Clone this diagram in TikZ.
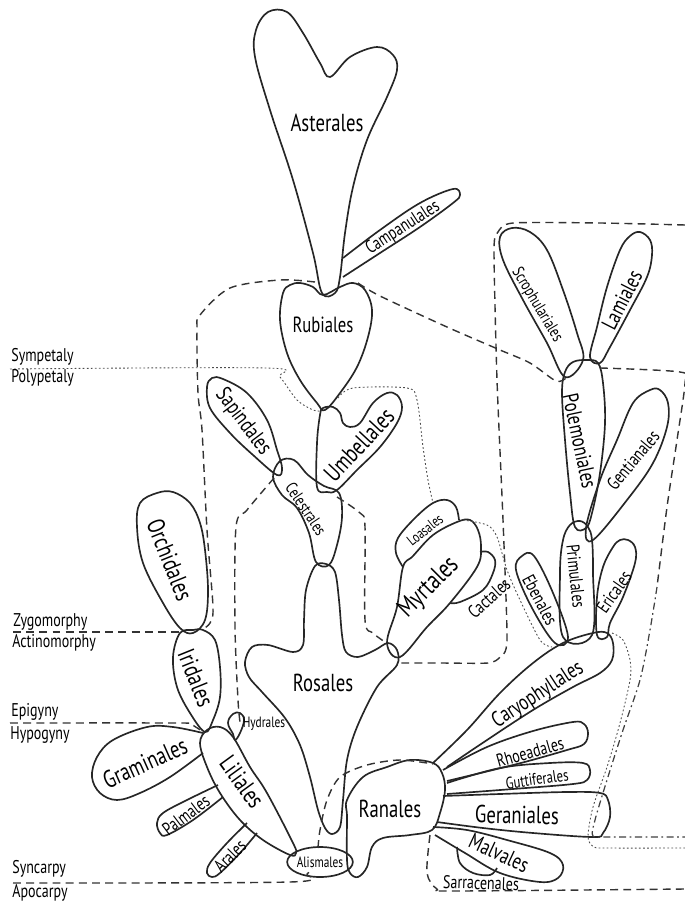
\documentclass[tikz,border=0pt]{standalone}
\usepackage{fontspec}
\newfontfamily\handfont[FakeStretch=0.76]{PT Sans}
\usetikzlibrary{shapes.geometric}

\begin{document}
\begin{tikzpicture}[
        x=0.02cm, y=-0.02cm,
        blob/.style={
            draw=black!85,
            line width=0.95pt,
            line join=round
        },
        grpline/.style={
            draw=black!80,
            line width=0.8pt,
            dash pattern=on 4.5pt off 3pt
        },
        fineline/.style={
            draw=black!70,
            line width=0.5pt,
            dash pattern=on 1pt off 1.3pt
        },
        dashdotline/.style={
            draw=black!75,
            line width=0.7pt,
            dash pattern=on 4pt off 2pt on 1pt off 2pt
        },
        ordA/.style={font=\handfont\fontsize{14}{14}\selectfont, inner sep=0pt},
        ordB/.style={font=\handfont\fontsize{12.5}{12.5}\selectfont, inner sep=0pt},
        ordC/.style={font=\handfont\fontsize{10.5}{10.5}\selectfont, inner sep=0pt},
        ordS/.style={font=\handfont\fontsize{9.5}{9.5}\selectfont, inner sep=0pt},
        ordD/.style={font=\handfont\fontsize{8.5}{8.5}\selectfont, inner sep=0pt},
        trait/.style={font=\handfont\fontsize{10.5}{10.5}\selectfont, inner sep=0pt, anchor=west}
    ]

    \useasboundingbox (0,0) rectangle (685,901);

    % Sympetalous orders
    \draw[blob] plot[smooth cycle, tension=0.6] coordinates {
        (322,293) (313,253) (293,180) (270,110) (255,57) (256,30) (268,12)
        (287,12) (303,33) (320,63) (330,77) (350,57) (377,47) (393,55)
        (397,70) (387,97) (367,140) (353,187) (345,233) (340,277) (335,293)};
    \draw[blob] plot[smooth, tension=0.6] coordinates {
        (343,258) (380,230) (420,203) (453,189) (460,195) (453,203)
        (420,227) (380,253) (343,277)};
    \draw[blob] plot[smooth cycle, tension=0.6] coordinates {
        (323,295) (340,287) (353,283) (365,290) (372,310) (368,337)
        (357,367) (340,393) (325,410) (317,403) (300,380) (287,353)
        (280,320) (283,293) (290,285) (300,283) (313,287)};
    \draw[blob] plot[smooth cycle, tension=0.6] coordinates {
        (500,237) (512,228) (530,232) (547,250) (563,290) (577,333)
        (583,360) (565,377) (547,343) (523,300) (503,260)};
    \draw[blob] plot[smooth cycle, tension=0.6] coordinates {
        (590,357) (597,327) (607,287) (620,250) (630,236) (640,232)
        (650,240) (652,255) (647,277) (630,310) (610,347) (600,363)};
    \draw[blob] plot[smooth cycle, tension=0.6] coordinates {
        (573,362) (587,360) (598,363) (603,383) (605,423) (600,473)
        (592,513) (586,528) (575,527) (570,493) (565,440) (562,393) (565,372)};
    \draw[blob] plot[smooth cycle, tension=0.6] coordinates {
        (586,528) (600,480) (617,440) (633,403) (650,390) (660,390)
        (668,403) (667,427) (653,463) (627,500) (593,540)};
    \draw[blob] plot[smooth cycle, tension=0.6] coordinates {
        (570,525) (580,521) (588,527) (592,540) (593,573) (592,635)
        (563,637) (560,573) (563,540)};
    \draw[blob] plot[smooth cycle, tension=0.6] coordinates {
        (620,540) (628,540) (635,547) (635,563) (623,597) (610,623)
        (607,637) (597,635) (597,597) (603,567) (613,547)};
    \draw[blob] plot[smooth cycle, tension=0.6] coordinates {
        (522,556) (534,556) (553,593) (568,637) (555,643) (532,608)
        (516,570)};

    % Polypetalous orders
    \draw[blob] plot[smooth cycle, tension=0.6] coordinates {
        (323,408) (333,407) (340,413) (343,423) (350,427) (360,423)
        (373,403) (387,393) (397,395) (402,407) (397,423) (380,447)
        (357,470) (337,490) (327,492) (317,487) (317,443) (320,415)};
    \draw[blob] plot[smooth cycle, tension=0.6] coordinates {
        (207,387) (212,378) (223,379) (247,393) (267,420) (277,450)
        (282,468) (277,475) (253,455) (230,433) (210,408)};
    \draw[blob] plot[smooth cycle, tension=0.6] coordinates {
        (280,461) (294,460) (308,475) (324,486) (339,493) (342,517)
        (337,545) (329,565) (316,562) (309,533) (297,508) (282,495) (273,477)};
    \draw[blob] plot[smooth cycle, tension=0.55] coordinates {
        (315,566) (326,564) (335,572) (339,600) (342,635) (346,652)
        (358,657) (375,650) (388,643) (397,650) (397,665) (377,687)
        (357,727) (347,760) (343,800) (340,827) (332,834) (325,828)
        (318,810) (310,777) (300,745) (285,718) (262,692) (249,677)
        (245,662) (252,647) (268,645) (293,652) (303,645) (304,620) (306,590)};
    \draw[blob] plot[smooth cycle, tension=0.6] coordinates {
        (387,643) (397,607) (403,567) (413,556) (433,535) (457,522)
        (470,520) (478,530) (481,547) (477,567) (450,603) (427,627) (400,657)};
    \draw[blob] plot[smooth, tension=0.6] coordinates {
        (403,567) (396,553) (398,538) (415,518) (433,503) (447,500)
        (456,507) (459,520)};
    \draw[blob] plot[smooth, tension=0.6] coordinates {
        (480,552) (488,552) (495,560) (493,573) (483,590) (460,602) (450,603)};
    \draw[blob] plot[smooth cycle, tension=0.6] coordinates {
        (347,800) (363,777) (387,767) (410,760) (433,763) (442,773)
        (445,790) (440,813) (432,830) (410,835) (383,838) (372,847)
        (367,867) (358,877) (350,873) (347,860) (347,817)};
    \draw[blob] plot[smooth, tension=0.6] coordinates {
        (433,763) (467,730) (500,693) (533,663) (563,643) (593,633)
        (607,633) (613,643) (612,660) (600,673) (573,687) (533,710)
        (487,740) (447,767)};
    \draw[blob] plot[smooth, tension=0.6] coordinates {
        (443,770) (487,747) (533,731) (573,722) (584,724) (588,733)
        (584,744) (567,750) (517,764) (447,781)};
    \draw[blob] plot[smooth, tension=0.6] coordinates {
        (447,783) (500,768) (550,763) (583,763) (590,770) (587,780)
        (573,784) (513,789) (447,794)};
    \draw[blob] plot[smooth, tension=0.6] coordinates {
        (443,796) (500,794) (567,792) (600,793) (608,800) (610,817)
        (603,833) (593,837) (533,833) (483,828) (437,822)};
    \draw[blob] plot[smooth, tension=0.6] coordinates {
        (433,827) (467,830) (507,840) (550,853) (563,865) (558,878)
        (540,882) (500,873) (465,853) (435,835)};
    \draw[blob] plot[smooth, tension=0.6] coordinates {
        (457,847) (460,863) (473,873) (490,875) (497,868)};

    % Monocotyledonous orders
    \draw[blob] plot[smooth cycle, tension=0.6] coordinates {
        (157,493) (173,492) (190,503) (200,523) (205,550) (208,590)
        (205,620) (193,633) (180,628) (163,603) (143,563) (137,527) (140,503)};
    \draw[blob] plot[smooth cycle, tension=0.6] coordinates {
        (180,633) (193,630) (203,630) (215,640) (220,667) (220,697)
        (213,720) (205,732) (190,713) (177,687) (173,657)};
    \draw[blob] plot[smooth cycle, tension=0.6] coordinates {
        (207,730) (220,727) (233,737) (250,767) (267,793) (293,843)
        (296,853) (290,855) (263,840) (240,820) (220,793) (207,767) (200,743)};
    \draw[blob] plot[smooth, tension=0.6] coordinates {
        (203,733) (173,727) (147,727) (113,740) (97,757) (92,777)
        (100,793) (117,800) (140,793) (170,777) (203,753)};
    \draw[blob] plot[smooth, tension=0.6] coordinates {
        (218,785) (187,800) (163,813) (157,823) (160,833) (167,835)
        (193,820) (223,797)};
    \draw[blob] plot[smooth, tension=0.6] coordinates {
        (247,823) (227,843) (210,863) (207,873) (212,877) (220,873)
        (240,853) (257,833)};
    \draw[blob] plot[smooth cycle, tension=0.7] coordinates {
        (233,734) (228,723) (233,714) (240,713) (244,720) (240,733) (235,740)};
    \node[blob, ellipse, minimum width=1.08cm, minimum height=0.6cm,
        inner sep=0pt, ordD] (alismales) at (320,862) {Alismales};

    % Group boundaries
    \draw[grpline] plot[smooth, tension=0.5] coordinates {
        (315,282) (280,280) (230,288) (200,315) (197,330) (198,393)
        (202,430) (207,530) (213,607) (210,623) (203,629)};
    \draw[grpline] plot[smooth, tension=0.5] coordinates {
        (358,283) (380,296) (447,327) (500,350) (530,363) (556,381) (566,378)};
    \draw[grpline] plot[smooth, tension=0.4] coordinates {
        (685,225) (600,223) (513,223) (498,232) (494,250) (497,380)
        (503,520) (507,640) (500,657) (488,663) (440,663) (400,663)};
    \draw[grpline] plot[smooth, tension=0.5] coordinates {
        (337,497) (360,513) (365,527) (365,620) (373,633) (385,642)};
    \draw[grpline] plot[smooth, tension=0.5] coordinates {
        (274,478) (247,510) (236,527) (235,627) (238,700) (240,722)};
    \draw[grpline] plot[smooth, tension=0.5] coordinates {
        (318,848) (320,830) (327,800) (340,777) (367,765) (400,760) (433,764)};
    \draw[grpline] plot[smooth, tension=0.5] coordinates {
        (430,835) (427,873) (437,889) (455,891) (685,889)};
    \draw[grpline] plot[smooth, tension=0.5] coordinates {
        (600,368) (680,372) (685,383) (677,440) (667,507) (657,587)};
    \draw[dashdotline] plot[smooth, tension=0.5] coordinates {
        (657,587) (650,630) (640,680) (623,730) (607,780) (595,820)
        (593,836) (610,837) (685,837)};

    % Character lines
    \draw[grpline] (13,632) -- (180,632);
    \draw[grpline] plot[smooth, tension=0.5] coordinates {
        (10,723) (173,723) (190,724) (203,732)};
    \draw[grpline] plot[smooth, tension=0.5] coordinates {
        (13,883) (290,882) (307,874) (312,868)};
    \draw[fineline] plot[smooth, tension=0.5] coordinates {
        (10,369) (267,368) (280,377) (297,400) (313,410) (322,411)};
    \draw[fineline] plot[smooth, tension=0.5] coordinates {
        (338,398) (353,388) (407,388) (417,400) (423,447) (428,480) (433,503)};
    \draw[fineline] plot[smooth, tension=0.5] coordinates {
        (463,520) (487,525) (497,537) (507,570) (520,600) (540,640) (552,647)};
    \draw[fineline] plot[smooth, tension=0.5] coordinates {
        (612,633) (623,640) (630,660) (630,680) (620,723) (607,767)
        (593,807) (588,837) (594,847) (607,848) (685,848)};

    % Order names
    \node[ordA] (asterales) at (327,123) {Asterales};
    \node[ordC, rotate=33] (campanulales) at (403,228) {Campanulales};
    \node[ordB] (rubiales) at (323,325) {Rubiales};
    \node[ordS, rotate=-59] (scrophulariales) at (537,305) {Scrophulariales};
    \node[ordB, rotate=63] (lamiales) at (622,300) {Lamiales};
    \node[ordB, rotate=-78] (polemoniales) at (580,441) {Polemoniales};
    \node[ordC, rotate=50] (gentianales) at (633,460) {Gentianales};
    \node[ordC, rotate=-84] (primulales) at (576,576) {Primulales};
    \node[ordC, rotate=55] (ericales) at (614,592) {Ericales};
    \node[ordC, rotate=-62] (ebenales) at (540,600) {Ebenales};
    \node[ordA, rotate=47] (umbellales) at (359,445) {Umbellales};
    \node[ordB, rotate=-53] (sapindales) at (243,422) {Sapindales};
    \node[ordS, rotate=-56] (celestrales) at (306,509) {Celestrales};
    \node[ordA] (rosales) at (323,683) {Rosales};
    \node[ordD, rotate=39] (loasales) at (425,530) {Loasales};
    \node[ordA, font=\handfont\fontsize{15}{15}\selectfont, rotate=45] (myrtales) at (429,588) {Myrtales};
    \node[ordC, rotate=42] (cactales) at (489,598) {Cactales};
    \node[ordB, rotate=33] (caryophyllales) at (538,695) {Caryophyllales};
    \node[ordC, rotate=16] (rhoeadales) at (530,752) {Rhoeadales};
    \node[ordS, rotate=8] (guttiferales) at (537,779) {Guttiferales};
    \node[ordA, rotate=-1] (geraniales) at (517,815) {Geraniales};
    \node[ordB, rotate=-25] (malvales) at (499,853) {Malvales};
    \node[ordC, rotate=-2] (sarracenales) at (481,883) {Sarracenales};
    \node[ordA] (ranales) at (390,809) {Ranales};
    \node[ordA, rotate=-68] (orchidales) at (170,560) {Orchidales};
    \node[ordA, rotate=-68] (iridales) at (196,678) {Iridales};
    \node[ordA, rotate=-54] (liliales) at (242,782) {Liliales};
    \node[ordA, rotate=24] (graminales) at (145,763) {Graminales};
    \node[ordC, rotate=37] (palmales) at (186,815) {Palmales};
    \node[ordC, rotate=45] (arales) at (230,856) {Arales};
    \node[ordD] (hydrales) at (264,724) {Hydrales};

    % Character labels
    \node[trait] (sympetaly) at (11,357) {Sympetaly};
    \node[trait] (polypetaly) at (11,378) {Polypetaly};
    \node[trait] (zygomorphy) at (13,622) {Zygomorphy};
    \node[trait] (actinomorphy) at (12,643) {Actinomorphy};
    \node[trait] (epigyny) at (11,712) {Epigyny};
    \node[trait] (hypogyny) at (10,735) {Hypogyny};
    \node[trait] (syncarpy) at (12,869) {Syncarpy};
    \node[trait] (apocarpy) at (12,893) {Apocarpy};

\end{tikzpicture}
\end{document}
